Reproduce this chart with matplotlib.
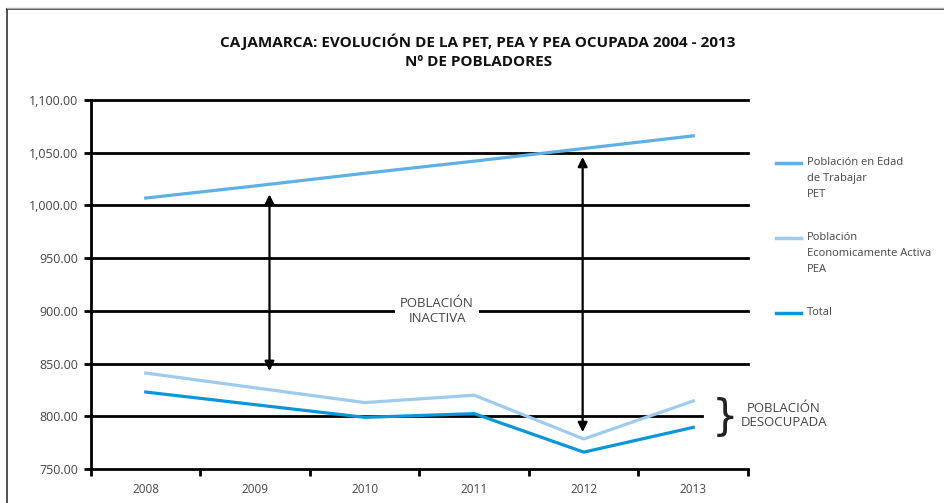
import matplotlib
matplotlib.use('Agg')
import matplotlib.pyplot as plt
from matplotlib import font_manager
from matplotlib.lines import Line2D

# data
years = ['2008', '2009', '2010', '2011', '2012', '2013']
pet = [1007, 1018.5, 1030.5, 1042, 1054, 1066]
pea = [841, 827, 813, 820, 778.5, 814.5]
total = [823, 811, 799, 802.5, 766, 789.5]
y_ticks = [750, 800, 850, 900, 950, 1000, 1050, 1100]

series_labels = ['Población en Edad\nde Trabajar\nPET',
                 'Población\nEconomicamente Activa\nPEA',
                 'Total']
colors = ['#5eb0e5', '#9fcbee', '#0a96d8']

names = {f.name for f in font_manager.fontManager.ttflist}
title_font = 'Liberation Sans Narrow' if 'Liberation Sans Narrow' in names else 'Open Sans'
plt.rcParams['font.family'] = ['Open Sans', 'DejaVu Sans']

W, H = 945, 503
fig = plt.figure(figsize=(W / 100, H / 100), dpi=100)

def fx(px):
    return px / W

def fy(py):
    return 1 - py / H

# frame around the figure
fig.add_artist(Line2D([fx(7), fx(7)], [fy(9), 0], color='#333333', lw=1.2))
fig.add_artist(Line2D([fx(7), 1], [fy(9), fy(9)], color='#222222', lw=1.2))
fig.add_artist(Line2D([fx(7), 1], [fy(7.5), fy(7.5)], color='#aaaaaa', lw=1.0))

fig.text(0.506, fy(42), 'CAJAMARCA: EVOLUCIÓN DE LA PET, PEA Y PEA OCUPADA 2004 - 2013',
         ha='center', va='center', fontsize=11, fontweight='bold',
         family=title_font, color='#111111')
fig.text(0.506, fy(62), 'Nº DE POBLADORES', ha='center', va='center', fontsize=11,
         fontweight='bold', family=title_font, color='#111111')

ax = fig.add_axes([fx(91), fy(469), fx(748 - 91), (469 - 100) / H])
x = list(range(len(years)))

ax.plot(x, pet, color=colors[0], lw=2.3, zorder=3)
ax.plot(x, pea, color=colors[1], lw=2.3, zorder=3)
ax.plot(x, total, color=colors[2], lw=2.3, zorder=3)

ax.set_xlim(-0.5, len(years) - 0.5)
ax.set_ylim(750, 1100)

# gridlines (the 800 one stops short to leave room for the brace)
for v in y_ticks[1:]:
    ax.axhline(v, color='black', lw=2, xmax=0.93 if v == 800 else 1, zorder=2, clip_on=False)

for s in ['top', 'right']:
    ax.spines[s].set_visible(False)
ax.spines['left'].set_linewidth(2)
ax.spines['bottom'].set_linewidth(2)

ax.set_yticks(y_ticks)
ax.set_yticklabels([f'{v:,.2f}' for v in y_ticks], fontsize=9, color='#444444')
ax.tick_params(axis='y', length=5, width=2, pad=4)

ax.set_xticks([i - 0.5 for i in range(len(years) + 1)])
ax.set_xticklabels([])
ax.set_xticks(x, minor=True)
ax.set_xticklabels(years, minor=True, fontsize=8.5, color='#444444')
ax.tick_params(axis='x', which='major', length=5, width=2)
ax.tick_params(axis='x', which='minor', length=0, pad=10)

# double arrows
arrow = dict(arrowstyle='<|-|>', color='black', lw=1.6, mutation_scale=14,
             shrinkA=0, shrinkB=0)
ax.annotate('', xy=(1.13, 1010.5), xytext=(1.13, 843), arrowprops=arrow, zorder=4)
ax.annotate('', xy=(3.99, 1046), xytext=(3.99, 785), arrowprops=arrow, zorder=4)

ax.text(2.66, 900, 'POBLACIÓN\nINACTIVA', ha='center', va='center', fontsize=9.5,
        color='#444444', linespacing=1.15, zorder=5,
        bbox=dict(facecolor='white', edgecolor='none', pad=4))

# brace and label for unemployed population
fig.text(fx(725), fy(418), '}', ha='center', va='center', fontsize=30,
         color='#222222', family='DejaVu Sans')
fig.text(fx(784), fy(416), 'POBLACIÓN\nDESOCUPADA', ha='center', va='center',
         fontsize=9.5, color='#444444', linespacing=1.1)

# legend drawn by hand
legend_y = [163, 238, 313]
for lbl, c, ly in zip(series_labels, colors, legend_y):
    fig.add_artist(Line2D([fx(776), fx(801)], [fy(ly), fy(ly)], color=c, lw=2.5))
    fig.text(fx(807), fy(ly - 6), lbl, ha='left', va='top', fontsize=8,
             color='#444444', linespacing=1.6)

fig.savefig('out.png', dpi=100)
